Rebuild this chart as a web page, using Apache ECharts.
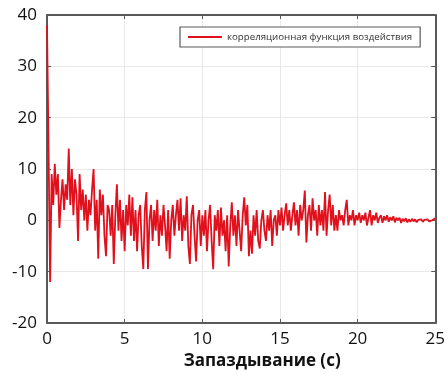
<!DOCTYPE html>
<html><head><meta charset="utf-8">
<script src="https://cdn.jsdelivr.net/npm/echarts@6/dist/echarts.min.js"></script>
<style>html,body{margin:0;padding:0;background:#fff}#c{width:448px;height:381px}</style>
</head><body><div id="c"></div>
<script>
const seriesName = 'корреляционная функция воздействия';
const xAxisTitle = 'Запаздывание (с)';
const xTicks = [0, 5, 10, 15, 20, 25];
const yTicks = [-20, -10, 0, 10, 20, 30, 40];
const timeStep = 0.1; // seconds between samples
const corrValues = [
 38, 14, -12, 9, 3, 11, 5, 9, -1.5, 4,
 8, 2, 7, 4, 14, 3, 10, 1, 8, 5,
 -4, 9, 2, 6, 0, 5, -2, 4, 1, 6,
 10, -2, 4, -7.5, 6, 1, 5, -3, -7, 3,
 2, -3, 3, -8.5, 1, 7, -2, 4, -4, 2,
 -6, 3, -1, 5, -3, 4.5, -4, 2, -6, 1,
 3, -5, -9.5, 2, 5.5, -9.5, 0, 3, -4, 2,
 -2, 4, -5, 1, -3, 3, -1, -6, 2, -7.5,
 0, 3, -3, 1, 4, -2, 4.3, -4, 1, -2,
 4.7, -5, -8.5, 1, 3, -3, -8, 0, 2, -5,
 1, -3, 2, -6, 0, 3, -4, -9.5, 1, -2,
 2, -5, 2.5, -3, 0, -6, 1, -9, -1, 3.5,
 -3, 1, -5, 2, -2, -6, 1, 4.5, -1, 3,
 -7, -2, -6.5, 1, -3, 2, -4, -5.5, 0, 2,
 -2, -4, 1, -2, 2, -5, 0, 1, -3, 2,
 -1, 2.5, -2, 1, 3.3, -1, 2, -2, 1, 3.5,
 -1, 2, -3, 3, 0, 2, 5.8, -4.3, 1, 3,
 -2, 4.3, 0, 2, -3, 3, -1, 2, -2, 5.5,
 -3, 2, 5, -1, 3, -2, 1, -2, 2, 0,
 1, -1, 2, 4, -1, 1, 0, 2, -1, 1,
 0, 1.5, -0.5, 1, 0, 1.5, -1, 0.5, 2, -1,
 1, 0, 1.5, -0.5, 0.5, 1, -0.5, 0.8, 0, 1,
 -0.3, 0.6, 0, 0.8, -0.4, 0.5, 0, 0.5, -0.5, 0.3,
 -0.2, 0.4, -0.4, 0.2, -0.3, 0.3, -0.2, 0.2, -0.4, 0.1,
 -0.2, 0.2, -0.3, 0.1, 0, 0.2, -0.2, 0.1, 0, 0.3,
 0.4
];
const points = corrValues.map((v, i) => [+(i * timeStep).toFixed(2), v]);

const chart = echarts.init(document.getElementById('c'), null, {renderer: 'canvas'});
const frame = '#5a5a5a';
const lblFont = {fontFamily: 'Open Sans', fontSize: 17, color: '#111'};
chart.setOption({
  animation: false,
  backgroundColor: '#fff',
  grid: {left: 47, right: 12, top: 15, bottom: 58, containLabel: false},
  legend: {
    show: true, data: [seriesName], left: 180, top: 27, width: 238,
    padding: [5, 8, 5, 8], itemGap: 0,
    borderColor: frame, borderWidth: 1.2, backgroundColor: '#fff',
    itemWidth: 34, itemHeight: 2, icon: 'rect',
    textStyle: {fontFamily: 'Open Sans', fontSize: 9.7, color: '#333'}
  },
  xAxis: [{
    type: 'value', min: 0, max: 25, interval: 5,
    axisLine: {show: true, onZero: false, lineStyle: {color: frame, width: 2}},
    axisTick: {show: true, inside: true, length: 4, lineStyle: {color: frame}},
    splitLine: {show: true, lineStyle: {color: '#e8e8e8', width: 1}},
    axisLabel: Object.assign({margin: 8}, lblFont),
    name: xAxisTitle, nameLocation: 'middle', nameGap: 30,
    nameTextStyle: {fontFamily: 'Open Sans', fontSize: 17, fontWeight: 'bold', color: '#111', padding: [0, 0, 0, 42]}
  }, {
    type: 'value', position: 'top', min: 0, max: 25, interval: 5,
    axisLine: {show: true, onZero: false, lineStyle: {color: frame, width: 2}},
    axisTick: {show: true, inside: true, length: 4, lineStyle: {color: frame}},
    axisLabel: {show: false}, splitLine: {show: false}
  }],
  yAxis: [{
    type: 'value', min: -20, max: 40, interval: 10,
    axisLine: {show: true, onZero: false, lineStyle: {color: frame, width: 2}},
    axisTick: {show: true, inside: true, length: 4, lineStyle: {color: frame}},
    splitLine: {show: true, lineStyle: {color: '#e8e8e8', width: 1}},
    axisLabel: Object.assign({margin: 10}, lblFont)
  }, {
    type: 'value', position: 'right', min: -20, max: 40, interval: 10,
    axisLine: {show: true, onZero: false, lineStyle: {color: frame, width: 2}},
    axisTick: {show: true, inside: true, length: 4, lineStyle: {color: frame}},
    axisLabel: {show: false}, splitLine: {show: false}
  }],
  series: [{
    name: seriesName, type: 'line', data: points, showSymbol: false, symbol: 'none',
    xAxisIndex: 0, yAxisIndex: 0, z: 1,
    lineStyle: {color: '#e0101c', width: 1.8}, itemStyle: {color: '#e0101c'}
  }]
});
</script></body></html>
